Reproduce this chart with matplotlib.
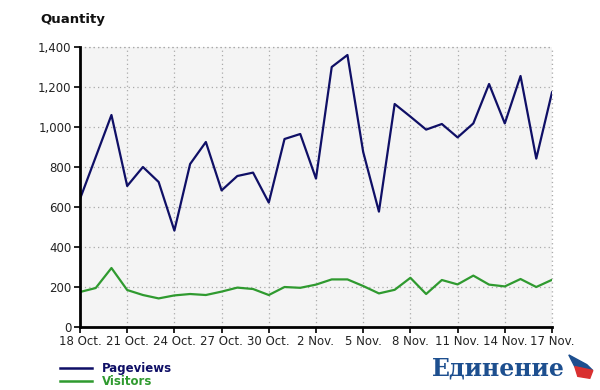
import matplotlib as mpl
import matplotlib.pyplot as plt
from matplotlib.patches import Polygon
from matplotlib.ticker import FuncFormatter, MultipleLocator

# daily values, 18 Oct .. 17 Nov
pageviews = [640, 850, 1060, 705, 800, 725, 482, 815, 925, 683, 755, 772, 622, 940, 965,
             742, 1300, 1360, 875, 577, 1115, 1052, 987, 1015, 948, 1018, 1215, 1018, 1255, 842, 1173]
visitors = [175, 195, 295, 185, 160, 143, 158, 165, 160, 177, 197, 190, 160, 200, 196,
            212, 238, 238, 205, 168, 186, 246, 165, 235, 213, 257, 212, 203, 240, 200, 236]
tick_labels = ["18 Oct.", "21 Oct.", "24 Oct.", "27 Oct.", "30 Oct.", "2 Nov.",
               "5 Nov.", "8 Nov.", "11 Nov.", "14 Nov.", "17 Nov."]

mpl.rcParams['font.family'] = ['DejaVu Sans']
days = list(range(len(pageviews)))

fig = plt.figure(figsize=(6, 3.9), dpi=100)
ax = fig.add_axes([0.1333, 0.1615, 0.7867, 0.718])
ax.set_facecolor("#f4f4f4")

ax.plot(days, pageviews, color="#0f0f66", lw=1.6, label="Pageviews")
ax.plot(days, visitors, color="#2f9a2f", lw=1.6, label="Visitors")

ax.set_xlim(0, 30)
ax.set_ylim(0, 1400)
ax.set_xticks(days[::3])
ax.set_xticklabels(tick_labels)
ax.yaxis.set_major_locator(MultipleLocator(200))
ax.yaxis.set_major_formatter(FuncFormatter(lambda v, p: "{:,.0f}".format(v)))
ax.tick_params(labelsize=8.5, labelcolor="#222222", length=4, width=1.2, color="black", pad=2)

ax.grid(True, linestyle=(0, (1, 2.5)), color="#aaaaaa", lw=0.9)
ax.set_axisbelow(True)
for s in ["top", "right"]:
    ax.spines[s].set_visible(False)
for s in ["left", "bottom"]:
    ax.spines[s].set_linewidth(2)
    ax.spines[s].set_color("black")
ax.axhline(1400, color="#aaaaaa", lw=0.9, linestyle=(0, (1, 2.5)), clip_on=False)
ax.axvline(30, color="#aaaaaa", lw=0.9, linestyle=(0, (1, 2.5)), clip_on=False)

fig.text(0.067, 0.94, "Quantity", fontsize=9.5, fontweight="bold", color="#111111")

# legend
for y, name, col in [(0.056, "Pageviews", "#0f0f66"), (0.023, "Visitors", "#2f9a2f")]:
    fig.add_artist(plt.Line2D([0.1, 0.153], [y, y], color=col, lw=1.8))
    fig.text(0.17, y, name, fontsize=8.5, fontweight="bold", color=col, va="center")

# logo
fig.text(0.72, 0.055, "Единение", fontsize=17, fontweight="bold", family="DejaVu Serif",
         color="#1d4f8f", va="center")
flag = [([0.948, 0.978, 0.988, 0.958], [0.09, 0.065, 0.05, 0.06], "#1d4f8f"),
        ([0.958, 0.988, 0.983, 0.963], [0.06, 0.05, 0.03, 0.035], "#d93030")]
for xs, ys, col in flag:
    fig.add_artist(Polygon(list(zip(xs, ys)), closed=True, color=col, transform=fig.transFigure))

plt.savefig("out.png", dpi=100)
